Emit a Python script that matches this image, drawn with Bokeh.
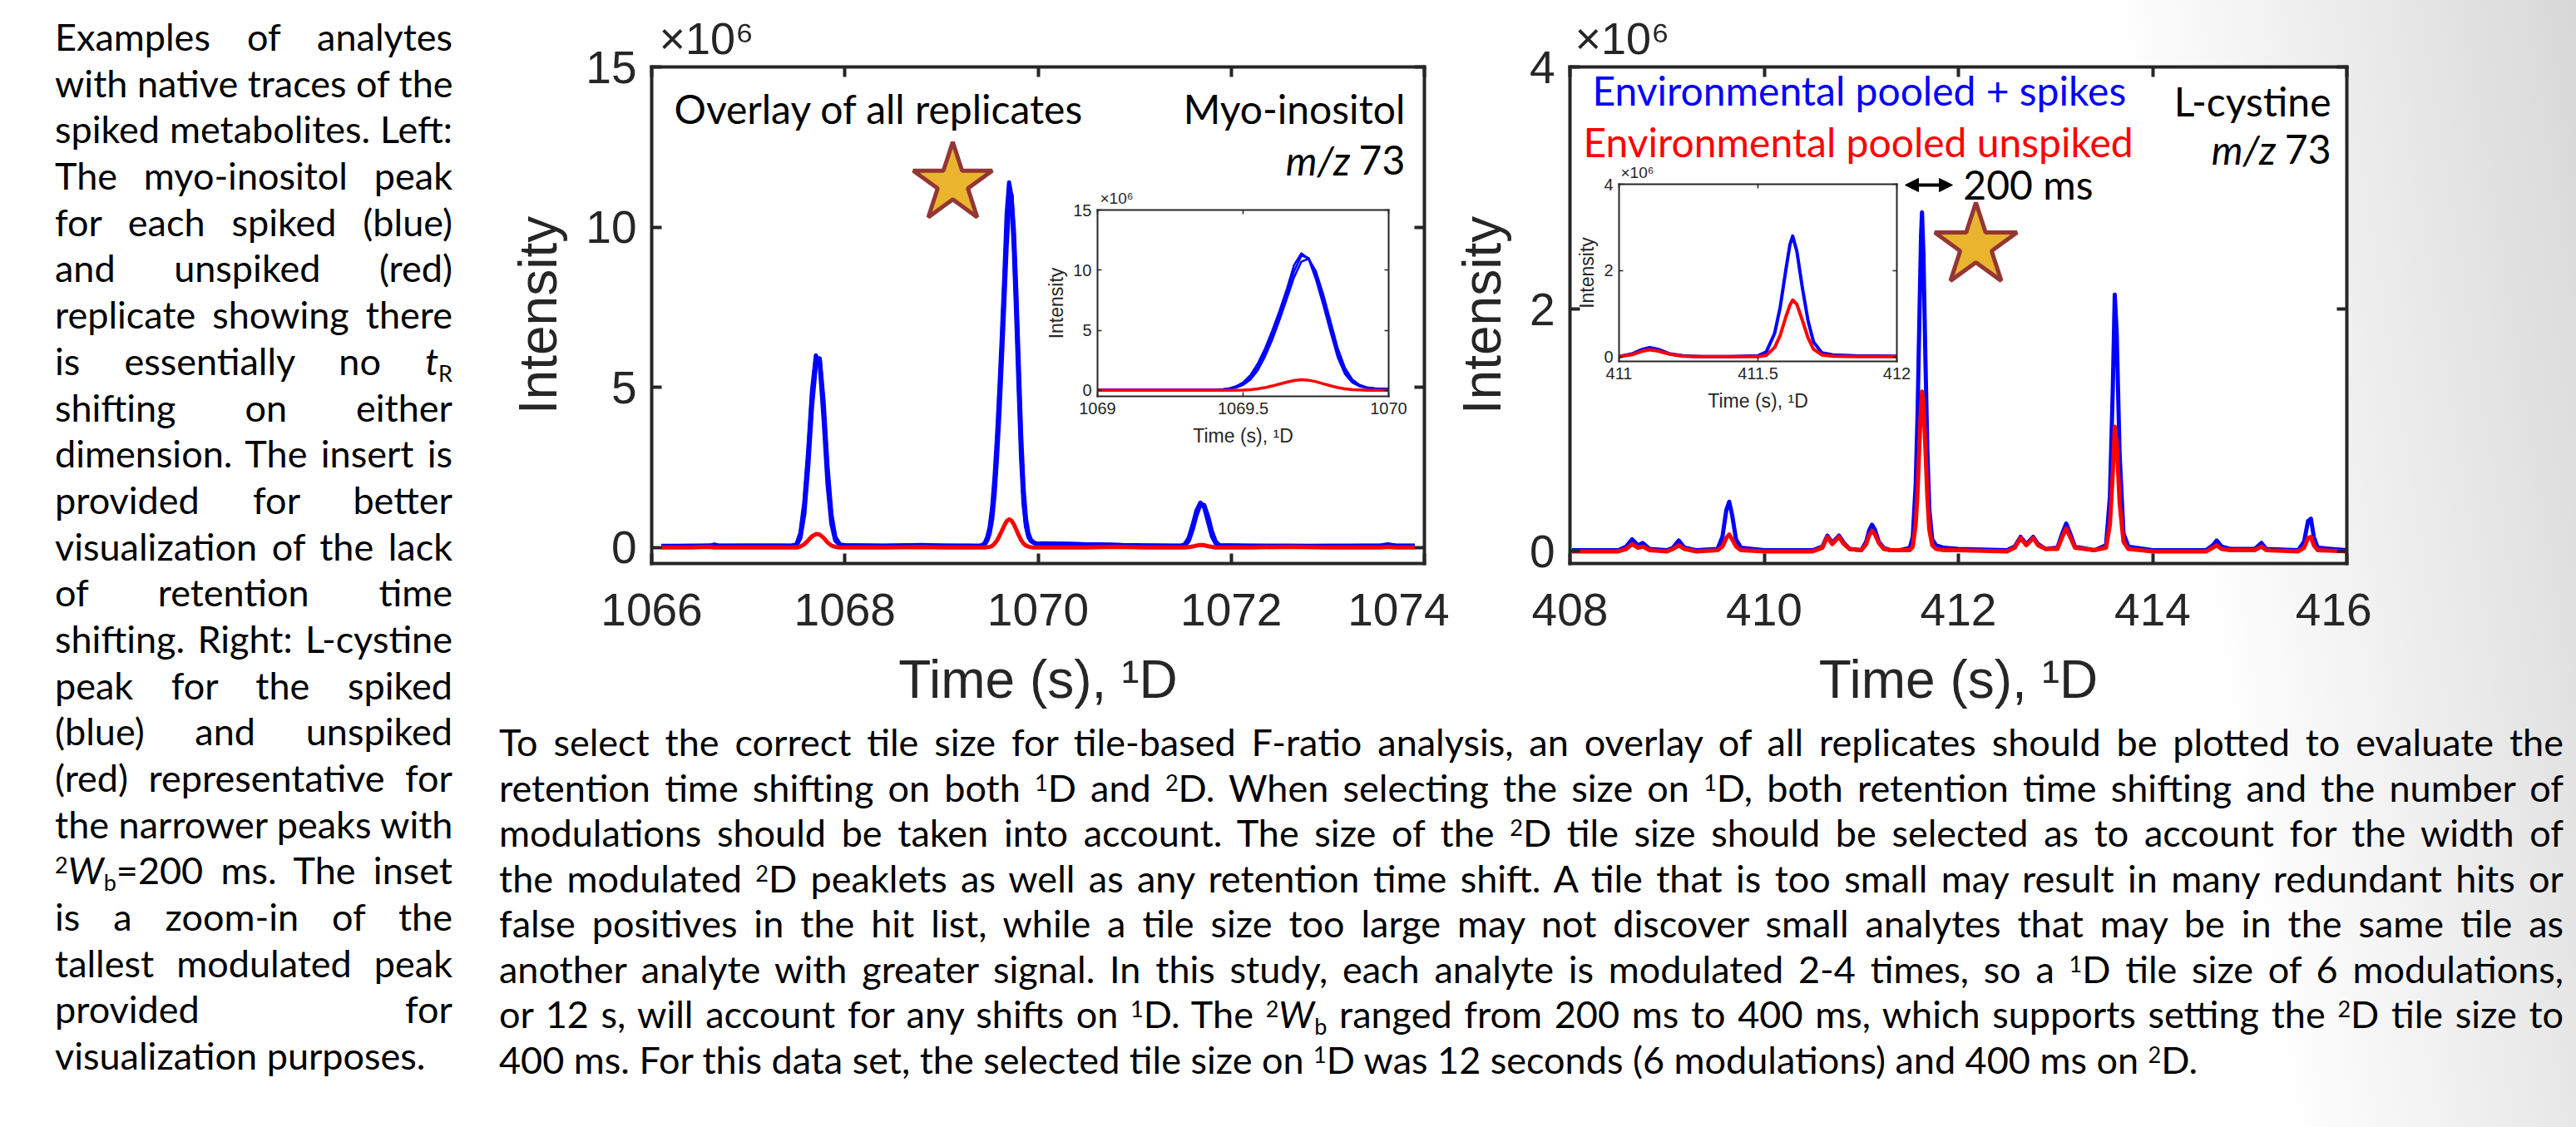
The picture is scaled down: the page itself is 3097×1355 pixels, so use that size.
from bokeh.plotting import figure
from bokeh.models import (Range1d, FixedTicker, LinearAxis, Label, Arrow, NormalHead,
                          Div, GridBox, Title, CustomLabelingPolicy)
from bokeh.embed import file_html
from bokeh.resources import INLINE

# ---------------------------------------------------------------------------
# Myo-inositol, m/z 73 : first-dimension time (s) and intensity (x10^6)
# three spiked replicates (blue) and the unspiked trace (red)
# ---------------------------------------------------------------------------
myo_time = [1066.10, 1066.40, 1066.60, 1066.65, 1066.70, 1067.00, 1067.30, 1067.45,
            1067.50, 1067.54, 1067.58, 1067.62, 1067.66, 1067.70, 1067.74, 1067.78,
            1067.82, 1067.86, 1067.90, 1067.95,
            1068.00, 1068.40, 1068.80, 1069.00, 1069.20, 1069.30, 1069.40,
            1069.425, 1069.45, 1069.475, 1069.50, 1069.525, 1069.55, 1069.575, 1069.60,
            1069.625, 1069.65, 1069.675, 1069.70, 1069.725, 1069.75, 1069.775, 1069.80,
            1069.825, 1069.85, 1069.875, 1069.90, 1069.925, 1069.95, 1069.975, 1070.00,
            1070.05, 1070.20, 1070.50, 1070.80, 1071.10, 1071.40,
            1071.48, 1071.52, 1071.56, 1071.60, 1071.64, 1071.68, 1071.72, 1071.76,
            1071.80, 1071.84, 1071.88,
            1072.20, 1072.60, 1073.00, 1073.40, 1073.55, 1073.62, 1073.70, 1073.90]

myo_spiked_1 = [0.04, 0.04, 0.05, 0.09, 0.05, 0.05, 0.05, 0.06,
                0.10, 0.45, 1.40, 3.00, 4.90, 6.00, 5.70, 4.00, 2.00, 0.75, 0.22, 0.07,
                0.06, 0.05, 0.08, 0.06, 0.05, 0.05, 0.06,
                0.08, 0.15, 0.33, 0.65, 1.25, 2.20, 3.45, 4.95, 6.60, 8.40, 10.40, 11.40,
                10.95, 9.25, 7.15, 4.90, 2.75, 1.35, 0.65, 0.33, 0.20, 0.15, 0.13, 0.12,
                0.12, 0.11, 0.10, 0.08, 0.06, 0.05,
                0.05, 0.10, 0.30, 0.70, 1.15, 1.40, 1.25, 0.80, 0.35, 0.12, 0.06,
                0.05, 0.05, 0.04, 0.05, 0.06, 0.10, 0.06, 0.05]

myo_spiked_2 = [0.05, 0.05, 0.05, 0.06, 0.05, 0.06, 0.05, 0.05,
                0.08, 0.38, 1.25, 2.80, 4.70, 5.90, 5.85, 4.30, 2.30, 0.90, 0.28, 0.08,
                0.06, 0.05, 0.06, 0.05, 0.05, 0.05, 0.05,
                0.06, 0.12, 0.27, 0.55, 1.05, 1.95, 3.15, 4.60, 6.25, 8.05, 9.90, 11.20,
                11.00, 9.60, 7.55, 5.30, 3.10, 1.60, 0.75, 0.38, 0.22, 0.16, 0.13, 0.12,
                0.12, 0.11, 0.10, 0.08, 0.06, 0.05,
                0.05, 0.08, 0.25, 0.62, 1.08, 1.38, 1.30, 0.90, 0.42, 0.15, 0.06,
                0.05, 0.05, 0.05, 0.05, 0.05, 0.07, 0.05, 0.05]

myo_spiked_3 = [0.04, 0.05, 0.06, 0.05, 0.05, 0.05, 0.06, 0.05,
                0.06, 0.30, 1.05, 2.50, 4.40, 5.70, 5.90, 4.55, 2.55, 1.05, 0.33, 0.09,
                0.07, 0.05, 0.06, 0.05, 0.05, 0.05, 0.04,
                0.05, 0.10, 0.22, 0.45, 0.88, 1.65, 2.80, 4.20, 5.85, 7.60, 9.40, 10.70,
                10.95, 9.90, 8.00, 5.75, 3.50, 1.85, 0.90, 0.45, 0.25, 0.17, 0.13, 0.12,
                0.13, 0.12, 0.10, 0.08, 0.06, 0.05,
                0.05, 0.07, 0.20, 0.55, 1.00, 1.33, 1.33, 0.98, 0.50, 0.18, 0.07,
                0.05, 0.04, 0.05, 0.05, 0.05, 0.08, 0.06, 0.05]

myo_unspiked = [0.00, 0.00, 0.02, 0.00, 0.00, 0.00, 0.00, 0.00,
                0.00, 0.03, 0.10, 0.22, 0.35, 0.42, 0.40, 0.30, 0.16, 0.06, 0.02, 0.00,
                0.00, 0.00, 0.01, 0.00, 0.00, 0.00, 0.00,
                0.00, 0.00, 0.01, 0.02, 0.05, 0.12, 0.22, 0.36, 0.52, 0.68, 0.82, 0.88,
                0.84, 0.72, 0.55, 0.38, 0.23, 0.12, 0.06, 0.03, 0.01, 0.00, 0.00, 0.00,
                0.00, 0.00, 0.00, 0.02, 0.00, 0.00,
                0.00, 0.00, 0.01, 0.03, 0.06, 0.08, 0.07, 0.04, 0.02, 0.00, 0.00,
                0.00, 0.02, 0.00, 0.00, 0.00, 0.02, 0.00, 0.00]

# ---------------------------------------------------------------------------
# L-cystine, m/z 73 : pooled + spikes (blue) and pooled unspiked (red)
# ---------------------------------------------------------------------------
cys_time = [408.02, 408.50, 408.58, 408.64, 408.70, 408.75, 408.82, 409.00, 409.06, 409.12,
            409.18, 409.30, 409.52, 409.57, 409.61, 409.64, 409.67, 409.71, 409.76, 410.00,
            410.50, 410.60, 410.65, 410.70, 410.77, 410.82, 410.88, 411.00, 411.05, 411.08,
            411.11, 411.14, 411.18, 411.23, 411.30, 411.40, 411.50, 411.53, 411.56, 411.58,
            411.60, 411.615, 411.625, 411.64, 411.66, 411.68, 411.70, 411.73, 411.77, 411.85,
            412.00, 412.50, 412.58, 412.64, 412.70, 412.77, 412.82, 412.90, 413.02, 413.07,
            413.11, 413.15, 413.20, 413.40, 413.52, 413.56, 413.59, 413.61, 413.63, 413.66,
            413.70, 413.75, 414.00, 414.55, 414.62, 414.66, 414.71, 414.80, 415.05, 415.12,
            415.17, 415.50, 415.56, 415.60, 415.63, 415.66, 415.70, 416.00]

cys_spiked = [0.01, 0.01, 0.04, 0.10, 0.05, 0.07, 0.02, 0.01, 0.03, 0.09,
              0.03, 0.01, 0.02, 0.12, 0.34, 0.41, 0.30, 0.10, 0.03, 0.01,
              0.01, 0.04, 0.13, 0.07, 0.13, 0.07, 0.02, 0.01, 0.08, 0.17,
              0.22, 0.18, 0.08, 0.03, 0.01, 0.01, 0.03, 0.12, 0.55, 1.15,
              2.00, 2.60, 2.80, 2.45, 1.60, 0.85, 0.35, 0.10, 0.05, 0.03,
              0.02, 0.01, 0.04, 0.12, 0.06, 0.12, 0.06, 0.02, 0.03, 0.15,
              0.23, 0.15, 0.04, 0.01, 0.05, 0.45, 1.35, 2.12, 1.80, 0.80,
              0.15, 0.04, 0.01, 0.01, 0.05, 0.09, 0.04, 0.02, 0.02, 0.07,
              0.02, 0.01, 0.08, 0.25, 0.27, 0.12, 0.03, 0.01]

cys_unspiked = [0.00, 0.00, 0.02, 0.06, 0.03, 0.04, 0.01, 0.00, 0.02, 0.05,
                0.02, 0.00, 0.01, 0.04, 0.11, 0.14, 0.10, 0.04, 0.01, 0.00,
                0.00, 0.03, 0.12, 0.06, 0.12, 0.06, 0.02, 0.01, 0.06, 0.13,
                0.17, 0.14, 0.07, 0.02, 0.01, 0.01, 0.01, 0.04, 0.22, 0.50,
                0.92, 1.20, 1.32, 1.22, 0.85, 0.45, 0.18, 0.05, 0.02, 0.01,
                0.01, 0.00, 0.03, 0.11, 0.05, 0.11, 0.05, 0.02, 0.02, 0.12,
                0.19, 0.12, 0.03, 0.01, 0.03, 0.22, 0.65, 1.03, 0.90, 0.40,
                0.08, 0.02, 0.00, 0.00, 0.03, 0.05, 0.02, 0.01, 0.01, 0.04,
                0.01, 0.00, 0.03, 0.11, 0.12, 0.05, 0.01, 0.00]

# axis ticks
myo_xticks = [1066, 1068, 1070, 1072, 1074]
myo_yticks = [0, 5, 10, 15]
myo_inset_xticks = [1069, 1069.5, 1070]
cys_xticks = [408, 410, 412, 414, 416]
cys_yticks = [0, 2, 4]
cys_inset_xticks = [411, 411.5, 412]

# slide text
left_lines = [
    "Examples of analytes",
    "with native traces of the",
    "spiked metabolites. Left:",
    "The myo-inositol peak",
    "for each spiked (blue)",
    "and unspiked (red)",
    "replicate showing there",
    "is essentially no <i>t</i>{sub_R}",
    "shifting on either",
    "dimension. The insert is",
    "provided for better",
    "visualization of the lack",
    "of retention time",
    "shifting. Right: L-cystine",
    "peak for the spiked",
    "(blue) and unspiked",
    "(red) representative for",
    "the narrower peaks with",
    "{sup_2}<i>W</i>{sub_b}=200 ms. The inset",
    "is a zoom-in of the",
    "tallest modulated peak",
    "provided for",
    "visualization purposes.",
]

bottom_lines = [
    "To select the correct tile size for tile-based F-ratio analysis, an overlay of all replicates should be plotted to evaluate the",
    "retention time shifting on both {sup_1}D and {sup_2}D. When selecting the size on {sup_1}D, both retention time shifting and the number of",
    "modulations should be taken into account. The size of the {sup_2}D tile size should be selected as to account for the width of",
    "the modulated {sup_2}D peaklets as well as any retention time shift. A tile that is too small may result in many redundant hits or",
    "false positives in the hit list, while a tile size too large may not discover small analytes that may be in the same tile as",
    "another analyte with greater signal. In this study, each analyte is modulated 2-4 times, so a {sup_1}D tile size of 6 modulations,",
    "or 12 s, will account for any shifts on {sup_1}D. The {sup_2}<i>W</i>{sub_b} ranged from 200 ms to 400 ms, which supports setting the {sup_2}D tile size to",
    "400 ms. For this data set, the selected tile size on {sup_1}D was 12 seconds (6 modulations) and 400 ms on {sup_2}D.",
]

AXIS = "#262626"
BLUE = "#0000FF"
RED = "#FF0000"
TICK_FONT = "Liberation Sans"
NOTE_FONT = "Lato"


def sup(t):
    return f'<span style="font-size:27px;vertical-align:13px;line-height:0">{t}</span>'


def sub(t):
    return f'<span style="font-size:27px;vertical-align:-8px;line-height:0">{t}</span>'


MARKUP = dict(sup_1=sup("1"), sup_2=sup("2"), sub_R=sub("R"), sub_b=sub("b"))


def paragraph(lines, line_h, width, size):
    rows = []
    for i, ln in enumerate(lines):
        align = "left" if i == len(lines) - 1 else "justify"
        rows.append(
            f'<div style="text-align:{align};text-align-last:{align};white-space:nowrap;'
            f'height:{line_h}px;line-height:{line_h}px;">{ln.format(**MARKUP)}</div>')
    return (f'<div style="font-family:Lato;font-size:{size}px;color:#000;width:{width}px;">'
            + "".join(rows) + "</div>")


# every panel gets the same border sizes, so the grid keeps each frame where it is put
BORDERS = dict(min_border_left=210, min_border_top=80, min_border_right=30,
               min_border_bottom=210)


def make_plot(xr, yr, fw, fh, xticks, yticks, sizes, xlabel, ylabel, exp_offset,
              overrides=None):
    p = figure(x_range=Range1d(*xr), y_range=Range1d(*yr),
               frame_width=fw, frame_height=fh, **BORDERS,
               output_backend="svg", toolbar_location=None, tools="",
               background_fill_color="white", border_fill_color=None,
               outline_line_color=None)
    p.xgrid.visible = False
    p.ygrid.visible = False
    bottom = p.below[0]
    left = p.left[0]
    no_labels = CustomLabelingPolicy(code="return new Set()")
    top = LinearAxis(major_label_policy=no_labels)
    right = LinearAxis(major_label_policy=no_labels)
    p.add_layout(top, "above")
    p.add_layout(right, "right")
    for ax in (bottom, top):
        ax.ticker = FixedTicker(ticks=xticks)
    for ax in (left, right):
        ax.ticker = FixedTicker(ticks=yticks)
    for ax in (bottom, left, top, right):
        ax.axis_line_color = AXIS
        ax.axis_line_width = sizes["lw"]
        ax.axis_line_cap = "square"
        ax.major_tick_in = sizes["tick"]
        ax.major_tick_out = 0
        ax.major_tick_line_color = AXIS
        ax.major_tick_line_width = sizes["tw"]
        ax.minor_tick_line_color = None
        ax.major_label_text_color = AXIS
        ax.major_label_text_font = TICK_FONT
        ax.major_label_text_font_size = f'{sizes["tf"]}px'
    # the box's top and right edges carry ticks only
    for ax in (top, right):
        ax.major_label_standoff = 0
        ax.major_label_text_font_size = "1px"
    bottom.major_label_standoff = sizes["xs"]
    left.major_label_standoff = sizes["ys"]
    if overrides:
        bottom.major_label_overrides = overrides
    for ax, lab, st in ((bottom, xlabel, sizes["xls"]), (left, ylabel, sizes["yls"])):
        ax.axis_label = lab
        ax.axis_label_text_font = TICK_FONT
        ax.axis_label_text_font_style = "normal"
        ax.axis_label_text_font_size = f'{sizes["lf"]}px'
        ax.axis_label_text_color = AXIS
        ax.axis_label_standoff = st
    # intensity multiplier shown above the top-left corner of the box
    p.title = Title(text="×10⁶", align="left", offset=exp_offset, standoff=sizes["es"],
                    text_font=TICK_FONT, text_font_size=f'{sizes["ef"]}px',
                    text_font_style="normal", text_color=AXIS)
    return p


def note(p, x, y, text, color="black", align="left", italic=False, x_offset=0):
    p.add_layout(Label(x=x, y=y, text=text, text_font=NOTE_FONT, text_font_size="48px",
                       text_color=color, text_align=align, text_baseline="alphabetic",
                       text_font_style="italic" if italic else "normal", x_offset=x_offset))


MAIN = dict(lw=4, tick=12, tw=4, tf=55, lf=64, xs=36, ys=18, xls=26, yls=18, ef=54, es=2)
INSET = dict(lw=2, tick=5, tw=1.5, tf=20, lf=23, xs=7, ys=7, xls=10, yls=4, ef=19, es=0)
TIME_LABEL = "Time (s), ¹D"

# ---------------- myo-inositol main panel ----------------
p_myo = make_plot((1066, 1074), (-0.5, 15), 929, 597, myo_xticks, myo_yticks, MAIN,
                  TIME_LABEL, "Intensity", 9)
for rep in (myo_spiked_1, myo_spiked_2, myo_spiked_3):
    p_myo.line(myo_time, rep, line_color=BLUE, line_width=5, line_join="round")
p_myo.line(myo_time, myo_unspiked, line_color=RED, line_width=5, line_join="round")
note(p_myo, 1066.233, 13.70, "Overlay of all replicates")
note(p_myo, 1073.80, 13.70, "Myo-inositol", align="right")
note(p_myo, 1073.80, 12.09, "73", align="right")
note(p_myo, 1073.80, 12.09, "m/z", align="right", italic=True, x_offset=-66)
p_myo.scatter([1069.117], [11.36], marker="star", size=100, fill_color="#E9B52F",
              line_color="#943634", line_width=5)

# ---------------- myo-inositol inset ----------------
in_myo = make_plot((1069, 1070), (-0.5, 15), 350, 224, myo_inset_xticks, myo_yticks,
                   INSET, TIME_LABEL, "Intensity", 3,
                   overrides={1069: "1069", 1069.5: "1069.5", 1070: "1070"})
for rep in (myo_spiked_1, myo_spiked_2, myo_spiked_3):
    in_myo.line(myo_time, rep, line_color=BLUE, line_width=2.5, line_join="round")
in_myo.line(myo_time, myo_unspiked, line_color=RED, line_width=3.5, line_join="round")

# ---------------- L-cystine main panel ----------------
p_cys = make_plot((408, 416), (-0.1, 4), 934, 597, cys_xticks, cys_yticks, MAIN,
                  TIME_LABEL, "Intensity", 6)
p_cys.line(cys_time, cys_spiked, line_color=BLUE, line_width=5, line_join="round")
p_cys.line(cys_time, cys_unspiked, line_color=RED, line_width=5, line_join="round")
note(p_cys, 408.231, 3.805, "Environmental pooled + spikes", color=BLUE)
note(p_cys, 408.137, 3.380, "Environmental pooled unspiked", color=RED)
note(p_cys, 415.837, 3.715, "L-cystine", align="right")
note(p_cys, 415.837, 3.318, "73", align="right")
note(p_cys, 415.837, 3.318, "m/z", align="right", italic=True, x_offset=-66)
note(p_cys, 412.05, 3.035, "200 ms")
p_cys.add_layout(Arrow(x_start=411.452, y_start=3.025, x_end=411.94, y_end=3.025,
                       line_width=4, line_color="black",
                       start=NormalHead(size=16, fill_color="black", line_color="black"),
                       end=NormalHead(size=16, fill_color="black", line_color="black")))
p_cys.scatter([412.18], [2.523], marker="star", size=104, fill_color="#E9B52F",
              line_color="#943634", line_width=5)

# ---------------- L-cystine inset ----------------
in_cys = make_plot((411, 412), (-0.1, 4), 334, 213, cys_inset_xticks, cys_yticks,
                   INSET, TIME_LABEL, "Intensity", 2,
                   overrides={411: "411", 411.5: "411.5", 412: "412"})
in_cys.line(cys_time, cys_spiked, line_color=BLUE, line_width=4, line_join="round")
in_cys.line(cys_time, cys_unspiked, line_color=RED, line_width=4, line_join="round")

# ---------------- text blocks ----------------
left_div = Div(text=paragraph(left_lines, 55.7, 478, 45), width=478, height=1300,
               margin=(17, 0, 0, 66))
bottom_div = Div(text=paragraph(bottom_lines, 54.5, 2482, 45), width=2482, height=450,
                 margin=(865, 0, 0, 600))

# place each panel so that its frame lands at its slide position (one shared grid cell)
p_myo.margin = (0, 0, 0, 783 - 210)
p_cys.margin = (0, 0, 0, 1887 - 210)
in_myo.margin = (252 - 80, 0, 0, 1319 - 210)
in_cys.margin = (221 - 80, 0, 0, 1946 - 210)

page = GridBox(children=[(left_div, 0, 0), (bottom_div, 0, 0), (p_myo, 0, 0),
                         (p_cys, 0, 0), (in_myo, 0, 0), (in_cys, 0, 0)],
               width=3097, height=1355,
               styles={"background": "linear-gradient(261deg, rgb(216,216,216) 0%, rgb(255,255,255) 17%)"})

open("out.html", "w").write(file_html(page, INLINE))
